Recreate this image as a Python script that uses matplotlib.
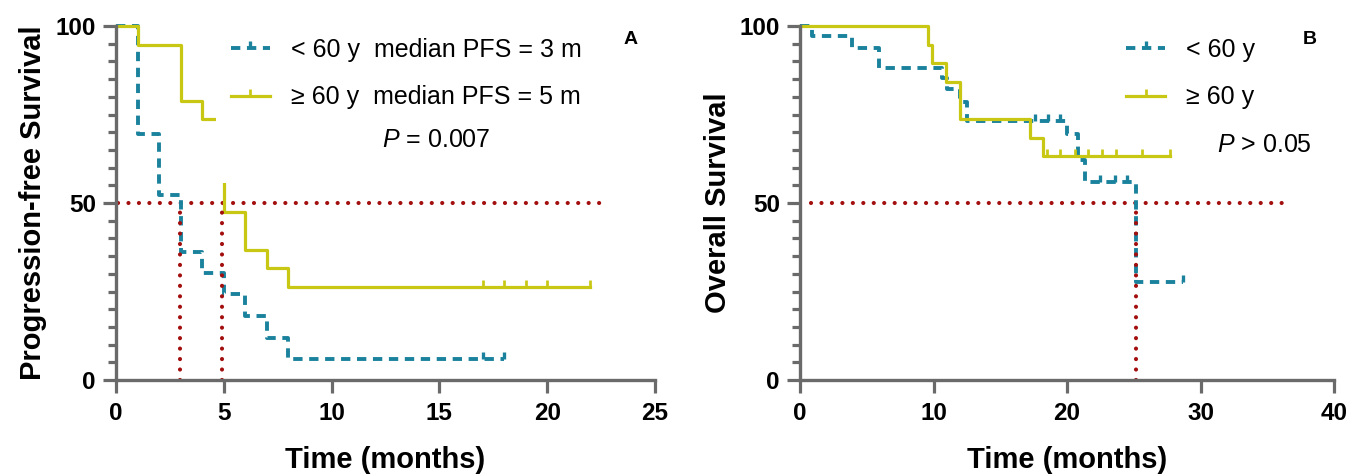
import matplotlib
matplotlib.use("Agg")
import matplotlib.pyplot as plt
from matplotlib.lines import Line2D
from matplotlib.patches import Rectangle
from matplotlib.path import Path
from matplotlib.ticker import MultipleLocator

plt.rcParams['font.family'] = ['Liberation Sans', 'DejaVu Sans']
plt.rcParams['mathtext.fontset'] = 'custom'
plt.rcParams['mathtext.it'] = 'Liberation Sans:italic'
plt.rcParams['mathtext.rm'] = 'Liberation Sans'

# ---------------- data ----------------
# Panel A: progression-free survival
pfs_young_t = [0, 1, 2, 3, 4, 5, 6, 7, 8]
pfs_young_s = [100, 69.6, 52.2, 36.2, 30.1, 24.2, 18.0, 12.0, 5.8]
pfs_young_end = 18
pfs_young_cens = [17, 18]

pfs_old_t = [0, 1, 3, 4, 5, 6, 7, 8]
pfs_old_s = [100, 94.7, 78.9, 73.7, 47.4, 36.8, 31.6, 26.3]
pfs_old_end = 22
pfs_old_cens = [17, 18, 19, 20, 22]

pfs_medians = [2.97, 4.92]

# Panel B: overall survival
os_young_t = [0, 0.9, 3.9, 5.9, 10.6, 11.0, 12.0, 12.5, 20.0, 20.8, 21.35, 25.15]
os_young_s = [100, 97.3, 93.9, 88.2, 85.2, 82.2, 78.4, 73.2, 69.5, 62.1, 56.0, 27.8]
os_young_end = 28.7
os_young_cens = [17.6, 18.6, 19.5, 22.5, 23.6, 24.5, 28.7]

os_old_t = [0, 9.6, 9.9, 10.9, 12.0, 17.2, 18.2]
os_old_s = [100, 94.7, 89.5, 84.2, 73.7, 68.4, 63.2]
os_old_end = 27.7
os_old_cens = [18.5, 19.5, 20.6, 21.6, 22.6, 23.7, 25.6, 27.7]

os_medians = [25.15]

labels_A = ["< 60 y  median PFS = 3 m", "\u2265 60 y  median PFS = 5 m"]
labels_B = ["< 60 y", "\u2265 60 y"]

# ---------------- style ----------------
TEAL = '#1a829c'
YELLOW = '#c8c814'
RED = '#a30f0f'
GRAY = '#6a6a6a'
TEAL_LW = 2.8
TEAL_DASH = (2.4, 1.7)
YEL_LW = 2.3
DOT_LW = 3.0
DOT = (0, (0.01, 2.5))

tick_marker = Path([(0, 0), (0, 1)], [Path.MOVETO, Path.LINETO])


def surv_at(t_list, s_list, x):
    val = s_list[0]
    for t, s in zip(t_list, s_list):
        if x >= t:
            val = s
    return val


def draw_curve(ax, t, s, end, cens, color, dashed):
    xs = list(t) + [end]
    ys = list(s) + [s[-1]]
    kw = dict(color=color, where='post', clip_on=False, zorder=2)
    if dashed:
        ax.step(xs, ys, lw=TEAL_LW, dashes=TEAL_DASH, **kw)
        mew = TEAL_LW
    else:
        ax.step(xs, ys, lw=YEL_LW, **kw)
        mew = YEL_LW
    cy = [surv_at(t, s, c) for c in cens]
    ax.plot(cens, cy, linestyle='none', marker=tick_marker, markersize=10,
            markeredgewidth=mew * 0.85, color=color, clip_on=False, zorder=2)


def style_axes(ax, xmax, xstep, ylabel):
    ax.set_xlim(0, xmax)
    ax.set_ylim(0, 100)
    for sp in ['top', 'right']:
        ax.spines[sp].set_visible(False)
    for sp in ['left', 'bottom']:
        ax.spines[sp].set_color(GRAY)
        ax.spines[sp].set_linewidth(2.4)
    ax.xaxis.set_major_locator(MultipleLocator(xstep))
    ax.yaxis.set_major_locator(MultipleLocator(50))
    ax.yaxis.set_minor_locator(MultipleLocator(5))
    ax.tick_params(axis='x', which='major', length=9, width=2.3, color=GRAY,
                   labelsize=17.5, pad=7)
    ax.tick_params(axis='y', which='major', length=9.5, width=2.3, color=GRAY,
                   labelsize=17.5, pad=5)
    ax.tick_params(axis='y', which='minor', length=6, width=2.3, color=GRAY)
    for lab in ax.get_xticklabels() + ax.get_yticklabels():
        lab.set_fontweight('bold')
    ax.set_xlabel('Time (months)', fontsize=21, fontweight='bold', labelpad=15)
    ax.set_ylabel(ylabel, fontsize=21, fontweight='bold')
    ax.yaxis.set_label_coords(-0.128, 0.5)


def add_legend(ax, labels, anchor):
    h1 = Line2D([], [], color=TEAL, lw=TEAL_LW, dashes=TEAL_DASH,
                marker=tick_marker, markersize=10, markeredgewidth=TEAL_LW * 0.85)
    h2 = Line2D([], [], color=YELLOW, lw=YEL_LW,
                marker=tick_marker, markersize=10, markeredgewidth=YEL_LW * 0.85)
    leg = ax.legend([h1, h2], labels, loc='upper left', bbox_to_anchor=anchor,
                    frameon=False, fontsize=18, handlelength=1.55, handletextpad=0.85,
                    labelspacing=0.95, borderaxespad=0, borderpad=0, numpoints=1)
    leg.set_zorder(6)


def ref_lines(ax, x0, x1, medians):
    h = ax.hlines(50, x0, x1, colors=RED, lw=DOT_LW, linestyles=[DOT], zorder=1.5)
    v = ax.vlines(medians, 0, 50, colors=RED, lw=DOT_LW, linestyles=[DOT], zorder=2.5)
    h.set_capstyle('round')
    v.set_capstyle('round')


fig = plt.figure(figsize=(13.6, 4.76), dpi=100)
axA = fig.add_axes([116 / 1360, 1 - 380 / 476, (655 - 116) / 1360, (380 - 26) / 476])
axB = fig.add_axes([800 / 1360, 1 - 380 / 476, (1334 - 800) / 1360, (380 - 26) / 476])

# ---------- Panel A ----------
draw_curve(axA, pfs_young_t, pfs_young_s, pfs_young_end, pfs_young_cens, TEAL, True)
draw_curve(axA, pfs_old_t, pfs_old_s, pfs_old_end, pfs_old_cens, YELLOW, False)
ref_lines(axA, 0.1, 22.7, pfs_medians)
axA.add_patch(Rectangle((4.65, 55.6), 18.5, 46, facecolor='white', edgecolor='none',
                        zorder=3, clip_on=False))
style_axes(axA, 25, 5, 'Progression-free Survival')
add_legend(axA, labels_A, (0.213, 0.967))
axA.text(0.595, 0.678, '$P$ = 0.007', transform=axA.transAxes, fontsize=18,
         ha='center', va='center', zorder=6)
axA.text(0.955, 0.962, 'A', transform=axA.transAxes, fontsize=14,
         fontweight='bold', ha='center', va='center', zorder=6)

# ---------- Panel B ----------
draw_curve(axB, os_young_t, os_young_s, os_young_end, os_young_cens, TEAL, True)
draw_curve(axB, os_old_t, os_old_s, os_old_end, os_old_cens, YELLOW, False)
ref_lines(axB, 0.8, 36.6, os_medians)
style_axes(axB, 40, 10, 'Overall Survival')
add_legend(axB, labels_B, (0.611, 0.967))
axB.text(0.869, 0.664, '$P$ > 0.05', transform=axB.transAxes, fontsize=18,
         ha='center', va='center', zorder=6)
axB.text(0.955, 0.962, 'B', transform=axB.transAxes, fontsize=14,
         fontweight='bold', ha='center', va='center', zorder=6)

fig.savefig('out.png', dpi=100)
